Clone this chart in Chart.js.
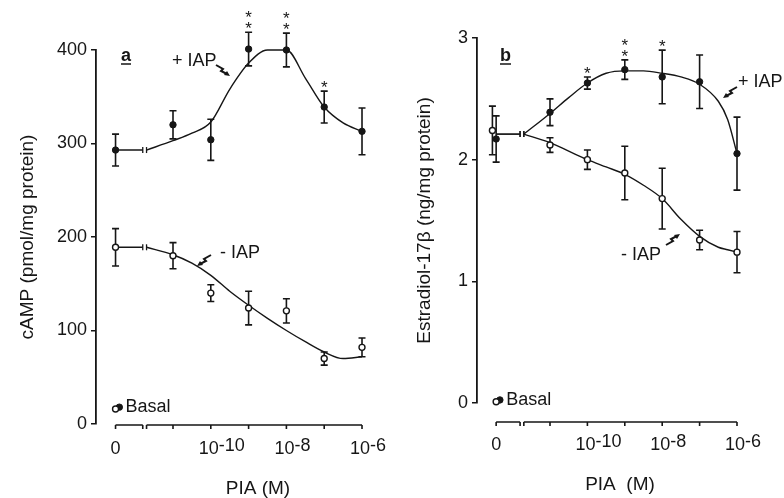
<!DOCTYPE html>
<html>
<head>
<meta charset="utf-8">
<script src="https://cdn.jsdelivr.net/npm/chart.js@4.4.1/dist/chart.umd.min.js"></script>
<style>
  body { margin: 0; background: #fff; }
  #wrap { position: relative; width: 784px; height: 498px; }
  #chartA { position: absolute; left: 0; top: 0; }
  #chartB { position: absolute; left: 400px; top: 0; }
</style>
</head>
<body>
<div id="wrap">
  <canvas id="chartA" width="400" height="498"></canvas>
  <canvas id="chartB" width="384" height="498"></canvas>
</div>
<script>
// PIA concentrations (M); 0 = no PIA
const concs = [0, 1e-11, 1e-10, 1e-9, 1e-8, 1e-7, 1e-6];

// panel a - cAMP (pmol/mg protein)
const campPlus = [293, 320, 304, 401, 400, 339, 313];
const campPlusErr = [17, 15, 22, 18, 18, 17, 25];
const campMinus = [189, 180, 140, 124, 121, 70, 82];
const campMinusErr = [20, 14, 9, 18, 13, 7, 10];
const campStars = ['', '', '', '**', '**', '*', ''];
const campBasal = [16, 18];   // -IAP, +IAP
const campFitConcs = [0, 1e-11, 10**-10.5, 1e-10, 10**-9.5, 1e-9, 10**-8.5, 1e-8, 10**-7.5, 1e-7, 10**-6.5, 1e-6];
const campFitPlus = [293, 303, 311, 323, 358, 386, 400, 400, 370, 339, 322, 313];
const campFitMinus = [189, 181, 172, 159, 142, 127, 113, 100, 88, 77, 70, 72];
const campTicks = [0, 100, 200, 300, 400];

// panel b - estradiol-17beta (ng/mg protein)
const e2Plus = [2.17, 2.39, 2.63, 2.74, 2.68, 2.64, 2.05];
const e2PlusErr = [0.19, 0.11, 0.05, 0.08, 0.22, 0.22, 0.30];
const e2Minus = [2.24, 2.12, 2.00, 1.89, 1.68, 1.34, 1.24];
const e2MinusErr = [0.20, 0.06, 0.08, 0.22, 0.25, 0.08, 0.17];
const e2Stars = ['', '', '*', '**', '*', '', ''];
const e2Basal = [0.01, 0.025];
const e2FitConcs = [0, 1e-11, 10**-10.5, 1e-10, 10**-9.5, 1e-9, 10**-8.5, 1e-8, 10**-7.5, 1e-7, 10**-6.5, 10**-6.25, 1e-6];
const e2FitPlus = [2.21, 2.38, 2.51, 2.63, 2.71, 2.73, 2.73, 2.71, 2.68, 2.62, 2.48, 2.33, 2.05];
const e2FitMinus = [2.21, 2.14, 2.07, 2.00, 1.94, 1.88, 1.79, 1.68, 1.51, 1.37, 1.28, 1.26, 1.24];
const e2Ticks = [0, 1, 2, 3];

// x tick labels
const xTickConcs = [0, 1e-10, 1e-8, 1e-6];
const xTickExps = ['', '-10', '-8', '-6'];
const minorTickConcs = [1e-11, 1e-10, 1e-9, 1e-8, 1e-7, 1e-6];

const INK = '#161616';
const FONT = '"Liberation Sans", Arial, Helvetica, sans-serif';
const BREAK_L = -11.8, BREAK_R = -11.7;

function toX(c, zero) { return c === 0 ? zero : Math.log10(c); }

function pts(vals, zero) {
  return concs.map((c, i) => ({ x: toX(c, zero), y: vals[i] }));
}

function fitPts(fc, vals, zero) {
  const out = [];
  fc.forEach((c, i) => {
    if (c === 0) {
      out.push({ x: zero, y: vals[i] }, { x: BREAK_L, y: vals[i] },
               { x: (BREAK_L + BREAK_R) / 2, y: null }, { x: BREAK_R, y: vals[i] });
    } else {
      out.push({ x: Math.log10(c), y: vals[i] });
    }
  });
  return out;
}

function squiggle(ctx, x, y, sx, sy) {
  ctx.save();
  ctx.translate(x, y);
  ctx.scale(sx, sy);
  ctx.strokeStyle = INK;
  ctx.fillStyle = INK;
  ctx.lineWidth = 2;
  ctx.beginPath();
  ctx.moveTo(-7, -5);
  ctx.lineTo(0, -1);
  ctx.lineTo(-2, 1);
  ctx.lineTo(4, 4);
  ctx.stroke();
  ctx.beginPath();
  ctx.moveTo(7, 6);
  ctx.lineTo(1, 5);
  ctx.lineTo(4, 1);
  ctx.closePath();
  ctx.fill();
  ctx.restore();
}

function star(ctx, x, cy) {
  ctx.font = '17px ' + FONT;
  ctx.textAlign = 'center';
  ctx.textBaseline = 'alphabetic';
  ctx.fillText('*', x, cy + 10);
}

// error bars, x axis with break, labels
const panelPlugin = {
  id: 'panelPlugin',
  beforeDatasetsDraw(chart) {
    const p = chart.options.plugins.panelPlugin;
    const ctx = chart.ctx;
    const xs = chart.scales.x, ys = chart.scales.y;
    ctx.save();
    ctx.strokeStyle = INK;
    ctx.lineWidth = 1.6;
    p.errSets.forEach(s => {
      concs.forEach((c, i) => {
        const px = xs.getPixelForValue(toX(c, s.zero));
        const top = ys.getPixelForValue(s.vals[i] + s.errs[i]);
        const bot = ys.getPixelForValue(s.vals[i] - s.errs[i]);
        ctx.beginPath();
        ctx.moveTo(px, top); ctx.lineTo(px, bot);
        ctx.moveTo(px - 3.5, top); ctx.lineTo(px + 3.5, top);
        ctx.moveTo(px - 3.5, bot); ctx.lineTo(px + 3.5, bot);
        ctx.stroke();
      });
    });
    ctx.restore();
  },
  afterDraw(chart) {
    const p = chart.options.plugins.panelPlugin;
    const ctx = chart.ctx;
    const xs = chart.scales.x, ys = chart.scales.y;
    const area = chart.chartArea;
    ctx.save();
    ctx.strokeStyle = INK;
    ctx.fillStyle = INK;

    // break marks on the fitted curves
    ctx.lineWidth = 1.3;
    p.fitStarts.forEach(v => {
      const yy = ys.getPixelForValue(v);
      [BREAK_L, BREAK_R].forEach(b => {
        const bx = xs.getPixelForValue(b);
        ctx.beginPath(); ctx.moveTo(bx, yy - 3); ctx.lineTo(bx, yy + 3); ctx.stroke();
      });
    });

    // x axis with break
    const y0 = area.bottom + p.axisGap;
    const xz = xs.getPixelForValue(p.zero);
    const xl = xs.getPixelForValue(BREAK_L);
    const xr = xs.getPixelForValue(BREAK_R);
    const xe = xs.getPixelForValue(-6);
    ctx.lineWidth = 1.6;
    ctx.beginPath();
    ctx.moveTo(xz, y0); ctx.lineTo(xl, y0);
    ctx.moveTo(xr, y0); ctx.lineTo(xe, y0);
    [xz, xl, xr].concat(minorTickConcs.map(c => xs.getPixelForValue(Math.log10(c)))).forEach(tx => {
      ctx.moveTo(tx, y0); ctx.lineTo(tx, y0 + 4);
    });
    ctx.stroke();

    // x tick labels
    ctx.textBaseline = 'alphabetic';
    xTickConcs.forEach((c, i) => {
      const tx = xs.getPixelForValue(toX(c, p.zero));
      const base = y0 + p.labelDrop;
      ctx.font = '18px ' + FONT;
      if (c === 0) {
        ctx.textAlign = 'center';
        ctx.fillText('0', tx, base);
      } else {
        ctx.textAlign = 'left';
        const w = ctx.measureText('10').width;
        const sx = tx - w / 2 - 2;
        ctx.fillText('10', sx, base);
        ctx.fillText(xTickExps[i], sx + w, base - 3);
      }
    });

    // axis title
    ctx.font = '19px ' + FONT;
    ctx.textAlign = 'center';
    ctx.fillText(p.xTitle, p.xTitlePos[0], p.xTitlePos[1]);

    // panel letter
    ctx.font = 'bold 18px ' + FONT;
    ctx.textAlign = 'left';
    ctx.fillText(p.letter, p.letterPos[0], p.letterPos[1]);
    const lw = ctx.measureText(p.letter).width;
    ctx.lineWidth = 1.5;
    ctx.beginPath();
    ctx.moveTo(p.letterPos[0], p.letterPos[1] + 3);
    ctx.lineTo(p.letterPos[0] + lw, p.letterPos[1] + 3);
    ctx.stroke();

    // series labels
    ctx.font = '18px ' + FONT;
    p.labels.forEach(l => {
      ctx.textAlign = 'left';
      ctx.fillText(l.text, l.x, l.y);
      squiggle(ctx, l.ax, l.ay, l.sx, l.sy);
    });

    // basal label
    const bx = xs.getPixelForValue(p.zero);
    const by = ys.getPixelForValue(p.basal[0]);
    ctx.font = '18px ' + FONT;
    ctx.textAlign = 'left';
    ctx.textBaseline = 'middle';
    ctx.fillText('Basal', bx + 10, by - 2);

    // significance stars
    p.stars.forEach((s, i) => {
      if (!s) return;
      const sx = xs.getPixelForValue(toX(concs[i], p.zero));
      const top = ys.getPixelForValue(p.starVals[i] + p.starErrs[i]);
      for (let k = 0; k < s.length; k++) star(ctx, sx, top - 8 - k * 11);
    });
    ctx.restore();
  }
};

function buildPanel(id, cfg) {
  const filled = { pointStyle: 'circle', pointRadius: 3.2, pointBackgroundColor: INK, pointBorderColor: INK, pointBorderWidth: 1, showLine: false, clip: false };
  const open = { pointStyle: 'circle', pointRadius: 3, pointBackgroundColor: '#fff', pointBorderColor: INK, pointBorderWidth: 1.4, showLine: false, clip: false };
  const curve = { pointRadius: 0, borderColor: INK, borderWidth: 1.4, showLine: true, spanGaps: false, cubicInterpolationMode: 'monotone', fill: false, clip: false };
  return new Chart(document.getElementById(id), {
    type: 'scatter',
    data: {
      datasets: [
        Object.assign({ label: 'basal -IAP', data: [{ x: cfg.zero, y: cfg.basal[0] }] }, open),
        Object.assign({ label: 'basal +IAP', data: [{ x: cfg.zero + 0.1, y: cfg.basal[1] }] }, filled),
        Object.assign({ label: '+IAP', data: pts(cfg.plus, cfg.zero) }, filled),
        Object.assign({ label: '-IAP', data: pts(cfg.minus, cfg.zero).map((d, i) => i === 0 ? { x: cfg.zero - cfg.dodge, y: d.y } : d) }, open),
        Object.assign({ label: '+IAP fit', data: fitPts(cfg.fitConcs, cfg.fitPlus, cfg.zero) }, curve),
        Object.assign({ label: '-IAP fit', data: fitPts(cfg.fitConcs, cfg.fitMinus, cfg.zero) }, curve)
      ]
    },
    options: {
      responsive: false,
      animation: false,
      devicePixelRatio: 1,
      layout: { padding: cfg.padding },
      plugins: {
        legend: { display: false },
        tooltip: { enabled: false },
        panelPlugin: {
          zero: cfg.zero,
          axisGap: cfg.axisGap,
          labelDrop: cfg.labelDrop,
          xTitle: cfg.xTitle,
          xTitlePos: cfg.xTitlePos,
          letter: cfg.letter,
          letterPos: cfg.letterPos,
          labels: cfg.labels,
          basal: cfg.basal,
          stars: cfg.stars,
          starVals: cfg.plus,
          starErrs: cfg.plusErr,
          fitStarts: [cfg.fitPlus[0], cfg.fitMinus[0]],
          errSets: [
            { vals: cfg.plus, errs: cfg.plusErr, zero: cfg.zero },
            { vals: cfg.minus, errs: cfg.minusErr, zero: cfg.zero - cfg.dodge }
          ]
        }
      },
      scales: {
        x: { type: 'linear', min: cfg.xMin, max: cfg.xMax, display: false },
        y: {
          min: cfg.yTicks[0],
          max: cfg.yTicks[cfg.yTicks.length - 1],
          afterBuildTicks: s => { s.ticks = cfg.yTicks.map(v => ({ value: v })); },
          afterFit: s => { s.width = cfg.yWidth; },
          border: { display: true, color: INK, width: 1.8 },
          grid: { drawOnChartArea: false, tickLength: 5, color: INK, lineWidth: 1.5 },
          ticks: { color: INK, padding: 4, font: { family: FONT, size: 18 } },
          title: { display: true, text: cfg.yTitle, color: INK, padding: { top: 2, bottom: 2 }, font: { family: FONT, size: 19 } }
        }
      }
    },
    plugins: [panelPlugin]
  });
}

buildPanel('chartA', {
  plus: campPlus, plusErr: campPlusErr, minus: campMinus, minusErr: campMinusErr,
  fitConcs: campFitConcs, fitPlus: campFitPlus, fitMinus: campFitMinus,
  basal: campBasal, stars: campStars, yTicks: campTicks,
  yTitle: 'cAMP (pmol/mg protein)', xTitle: 'PIA (M)',
  xMin: -13.037, xMax: -5.524, zero: -12.52, dodge: 0,
  padding: { left: 14, top: 50, right: 20, bottom: 74 }, yWidth: 82,
  axisGap: 1, labelDrop: 29, xTitlePos: [258, 494],
  letter: 'a', letterPos: [121, 61],
  labels: [
    { text: '+ IAP', x: 172, y: 66, ax: 223, ay: 70, sx: 1, sy: 1 },
    { text: '- IAP', x: 220, y: 258, ax: 204, ay: 260, sx: -1, sy: 1 }
  ]
});

buildPanel('chartB', {
  plus: e2Plus, plusErr: e2PlusErr, minus: e2Minus, minusErr: e2MinusErr,
  fitConcs: e2FitConcs, fitPlus: e2FitPlus, fitMinus: e2FitMinus,
  basal: e2Basal, stars: e2Stars, yTicks: e2Ticks,
  yTitle: 'Estradiol-17\u03b2 (ng/mg protein)', xTitle: 'PIA  (M)',
  xMin: -12.952, xMax: -5.278, zero: -12.44, dodge: 0.1,
  padding: { left: 11, top: 38, right: 20, bottom: 95 }, yWidth: 66,
  axisGap: 19, labelDrop: 28, xTitlePos: [220, 490],
  letter: 'b', letterPos: [100, 61],
  labels: [
    { text: '+ IAP', x: 338, y: 87, ax: 330, ay: 92, sx: -1, sy: 1 },
    { text: '- IAP', x: 221, y: 260, ax: 273, ay: 240, sx: 1, sy: -1 }
  ]
});
</script>
</body>
</html>
